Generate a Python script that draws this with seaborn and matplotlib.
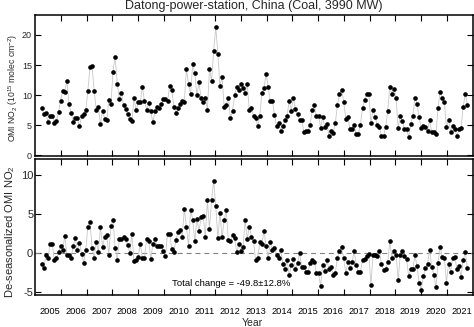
import numpy as np
import pandas as pd
import matplotlib
matplotlib.use("Agg")
import matplotlib.pyplot as plt
import seaborn as sns

# ---- data -------------------------------------------------------------
station = "Datong-power-station, China (Coal, 3990 MW)"
total_change = "Total change = -49.8\u00b112.8%"

# decimal-year span covered by the monthly record
first_month, last_month = 2005.25, 2021.8

# monthly OMI NO2 column (10^15 molec cm^-2)
no2 = [
    7.8, 6.8, 7.0, 5.6, 6.5, 6.5, 5.4, 5.7, 7.2, 9.1, 10.7, 10.6,
    12.4, 8.5, 7.1, 5.6, 6.2, 6.2, 4.8, 6.6, 6.8, 7.5, 10.7, 14.6,
    14.8, 10.7, 7.6, 8.0, 5.2, 7.4, 6.1, 5.9, 9.2, 8.5, 13.9, 16.4,
    11.9, 9.4, 10.3, 8.4, 7.7, 6.8, 6.0, 5.7, 9.5, 7.5, 8.8, 8.8,
    11.4, 9.0, 7.6, 8.7, 7.3, 5.5, 7.3, 8.0, 7.9, 8.5, 9.3, 9.3,
    9.0, 11.6, 10.9, 8.1, 7.0, 7.8, 8.6, 9.1, 8.9, 14.3, 11.9, 10.2,
    15.1, 13.6, 10.0, 12.1, 9.5, 8.8, 9.6, 7.6, 14.4, 12.3, 17.4, 21.3,
    16.8, 11.6, 13.0, 8.1, 8.4, 9.6, 6.2, 7.4, 10.0, 11.4, 10.9, 11.8,
    11.2, 10.3, 11.9, 7.5, 7.9, 6.6, 6.2, 4.8, 6.6, 10.3, 11.2, 13.5,
    11.4, 9.0, 9.1, 6.7, 4.9, 5.3, 4.1, 4.9, 5.8, 6.5, 9.0, 7.4,
    9.6, 7.7, 6.8, 5.8, 5.8, 3.9, 4.1, 4.1, 5.1, 7.5, 8.3, 6.5,
    6.6, 4.6, 6.4, 4.7, 5.2, 3.3,
    4.0, 3.8, 5.3, 8.3, 10.2, 10.9, 8.9, 6.1, 6.4, 4.4, 4.4, 5.0,
    3.5, 3.5, 5.1, 7.9, 9.2, 10.2, 10.2, 5.3, 7.6, 6.4, 5.0, 4.7,
    3.2, 3.2, 4.7, 7.3, 11.4, 10.2, 11.1, 9.6, 4.6, 6.5, 5.7, 4.4,
    4.4, 3.0, 5.2, 6.6, 9.5, 8.6, 6.3, 4.6, 4.9, 4.7, 4.1, 5.8,
    3.9, 3.9, 3.5, 7.8, 10.6, 9.5, 8.9, 4.7, 5.9, 3.9, 4.8, 4.3,
    3.2, 4.4, 4.6, 8.1, 10.2, 8.4,
]

# de-seasonalized anomaly of the same record
no2_deseason = [
    -1.4, -1.9, -0.3, -0.6, 1.2, 1.2, -0.9, -0.7, 0.1, 0.9, 0.4, 2.2,
    -0.2, -0.3, -0.6, 0.9, 1.9, 0.4, 1.3, -0.1, -1.3, 0.4, 3.4, 4.0,
    0.7, -0.6, 1.4, 0.1, 3.4, 0.8, 2.1, 2.3, -0.2, 3.5, 4.3, 0.6,
    -0.9, 1.8, 1.8, 2.1, 1.8, 1.0, 0.0, 2.4, -1.0, -0.9, -0.5, 1.1,
    -0.6, -0.6, 1.8, 1.6, -0.8, 1.2, 1.8, 0.9, 0.9, 0.9, 0.2, -0.4,
    2.5, 2.5, 0.5, 0.1, 1.7, 2.7, 3.0, 2.1, 5.7, 3.3,
    0.9, 5.6, 4.3, 1.5, 4.4, 2.8, 4.6, 4.8, 2.0, 6.8, 3.1, 6.8,
    9.3, 6.0, 1.9, 5.2, 2.0, 4.2, 5.5, 1.7, 1.6, 2.3, 1.9, 0.1,
    1.1, 0.3, 0.8, 4.2, 1.8, 3.4, 2.1, 1.5, -0.9, -0.6, 1.4, 1.2,
    2.8, 0.9, -0.6, 1.4, 0.4, 0.7, -0.2, -0.6, 0.4, -1.4, -2.1, -0.9,
    -2.8, -1.6, -0.8, -2.0, -1.3, 0.0, -1.8, -1.8, -2.4, -2.4, -1.3, -0.9,
    -1.1, -2.6, -2.6, -4.3, -1.5, -2.3, -0.9, -2.1,
    -1.8, -2.8, -2.6, -0.6, 0.3, 0.8, -0.7, -2.6, -1.1, -1.9, -1.2, 0.2,
    -1.5, -2.4, -2.4, -0.9, -0.8, -0.4, -0.1, -4.1, -0.3, -0.2, -0.4, 0.3,
    -1.4, -2.2, -2.1, -1.2, 1.5, -0.6, 0.2, -0.3, -3.5, -0.2, 0.3, -0.4,
    -0.8, -3.0, -2.1, -2.1, -0.3, -1.7, -3.8, -4.7, -3.0, -1.9, -1.4, 0.4,
    -1.8, -2.8, -4.4, -1.3, 0.8, -0.5, -0.6, -3.8, -1.4, -2.4, -0.6, -0.5,
    -2.1, -1.7, -3.1, -0.9, 0.1, -1.9,
]

year_labels = list(range(2005, 2022))
top_yticks = [0, 5, 10, 15, 20]
bottom_yticks = [-5, 0, 5, 10]

# ---- style ------------------------------------------------------------
sns.set_theme(style="ticks")
plt.rcParams["font.family"] = ["Liberation Sans", "DejaVu Sans"]
plt.rcParams["mathtext.fontset"] = "custom"
plt.rcParams["mathtext.rm"] = "Liberation Sans"
plt.rcParams["mathtext.it"] = "Liberation Sans:italic"
plt.rcParams["mathtext.bf"] = "Liberation Sans:bold"
plt.rcParams["axes.linewidth"] = 1.1
plt.rcParams["axes.edgecolor"] = "black"

time = np.linspace(first_month, last_month, len(no2))
df = pd.DataFrame({"time": time, "no2": no2, "deseason": no2_deseason})

fig = plt.figure(figsize=(4.74, 3.27), dpi=100)
ax_top = fig.add_axes([0.0745, 0.5229, 0.9224, 0.4312])
ax_bot = fig.add_axes([0.0745, 0.0979, 0.9224, 0.4159])


def draw_series(ax, column):
    sns.lineplot(data=df, x="time", y=column, ax=ax, color="#c8c8c8",
                 linewidth=0.6, zorder=2)
    sns.scatterplot(data=df, x="time", y=column, ax=ax, color="black",
                    s=11, linewidth=0, zorder=3)
    ax.set_xlim(2005, 2022)
    ax.set_xlabel("")
    ax.set_ylabel("")
    # year boundaries carry the tick marks, labels sit inside each year
    ax.set_xticks(np.arange(2006, 2022), minor=True)
    ax.set_xticks(np.array(year_labels) + 0.58)
    ax.tick_params(axis="x", which="minor", direction="in", length=4,
                   width=0.8, top=True, bottom=True, color="black")
    ax.tick_params(axis="x", which="major", length=0, pad=8.5,
                   labelsize=6.7, colors="black")
    ax.tick_params(axis="y", which="major", direction="in", length=4,
                   width=0.8, left=True, right=True, color="black")
    for side in ax.spines.values():
        side.set_visible(True)
        side.set_color("black")


draw_series(ax_top, "no2")
draw_series(ax_bot, "deseason")

ax_top.set_ylim(-0.1, 23.3)
ax_top.set_yticks(top_yticks)
ax_top.set_yticklabels([str(v) for v in top_yticks])
ax_top.tick_params(axis="y", labelsize=6.5, pad=2.5)
ax_top.set_xticklabels([])

ax_bot.set_ylim(-5.4, 12.1)
ax_bot.set_yticks(bottom_yticks)
ax_bot.set_yticklabels([str(v) for v in bottom_yticks])
ax_bot.tick_params(axis="y", labelsize=8, pad=1.5)
ax_bot.set_xticklabels([str(y) for y in year_labels])
ax_bot.axhline(0, color="#808080", linewidth=0.8, linestyle=(0, (4.5, 3.5)),
               zorder=1)
ax_bot.text(0.4476, 0.081, total_change, transform=ax_bot.transAxes,
            ha="center", va="center", fontsize=6.8, color="black")

fig.text(0.536, 0.982, station, ha="center", va="center", fontsize=9)
fig.text(0.532, 0.012, "Year", ha="center", va="center", fontsize=7.5)
fig.text(0.027, 0.731, r"OMI NO$_\mathregular{2}$ (10$^\mathregular{15}$ molec cm$^\mathregular{-2}$)",
         rotation=90, ha="center", va="center", fontsize=6.2)
fig.text(0.021, 0.292, r"De-seasonalized OMI NO$_\mathregular{2}$",
         rotation=90, ha="center", va="center", fontsize=8)

fig.savefig("out.png", dpi=100)
